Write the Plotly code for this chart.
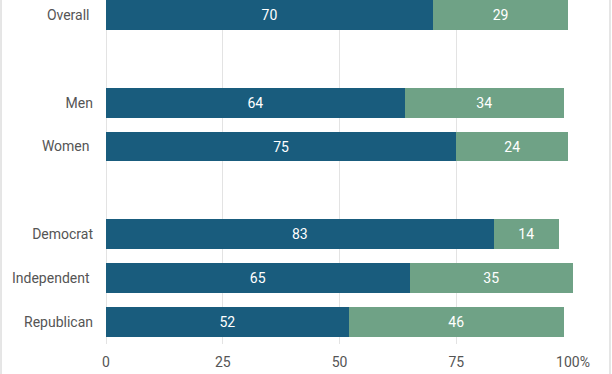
import plotly.graph_objects as go

categories = ["Overall", " ", "Men", "Women", "  ", "Democrat", "Independent", "Republican"]
category_labels = ["Overall\u00a0", "", "Men", "Women\u00a0", "", "Democrat", "Independent\u00a0", "Republican"]
series_a = [70, None, 64, 75, None, 83, 65, 52]
series_b = [29, None, 34, 24, None, 14, 35, 46]
x_tickvals = [0, 25, 50, 75, 100]
x_ticktext = ["0", "25", "50", "75", "100%"]

BLUE = "#195c7d"
GREEN = "#6fa286"
FONT = "Roboto"

fig = go.Figure()
for vals, col in [(series_a, BLUE), (series_b, GREEN)]:
    fig.add_trace(go.Bar(
        y=categories, x=vals, orientation="h",
        marker=dict(color=col, line=dict(width=0)),
        text=[("" if v is None else str(v)) for v in vals],
        textposition="inside", insidetextanchor="middle",
        textfont=dict(color="white", size=14, family=FONT),
        width=0.68, showlegend=False, hoverinfo="skip",
    ))

fig.update_layout(
    barmode="stack",
    width=612, height=374,
    margin=dict(l=106, r=39, t=0, b=30),
    paper_bgcolor="white", plot_bgcolor="white",
    font=dict(family=FONT, size=14, color="#555555"),
    xaxis=dict(range=[0, 100], tickvals=x_tickvals, ticktext=x_ticktext,
               showgrid=True, gridcolor="#e3e3e3", gridwidth=1,
               zeroline=True, zerolinecolor="#e3e3e3", zerolinewidth=1,
               showline=False, ticks="", tickfont=dict(size=14, color="#555555"),
               ticklabelstandoff=8, automargin=False, fixedrange=True),
    yaxis=dict(type="category", categoryorder="array", categoryarray=categories,
               tickvals=categories, ticktext=category_labels,
               range=[7.5, -0.341], showgrid=False, zeroline=False, showline=False,
               ticks="", tickfont=dict(size=14, color="#555555"),
               ticklabelstandoff=12, automargin=False, fixedrange=True),
    shapes=[
        dict(type="line", xref="paper", yref="paper", x0=-0.2248, x1=-0.2248, y0=-0.1, y1=1.01,
             line=dict(color="#dddddd", width=1.5)),
        dict(type="line", xref="paper", yref="paper", x0=1.0792, x1=1.0792, y0=-0.1, y1=1.01,
             line=dict(color="#dddddd", width=1.5)),
    ],
)

fig.write_html("out.html", config={"displayModeBar": False},
               post_script="document.body.style.margin='0';")
